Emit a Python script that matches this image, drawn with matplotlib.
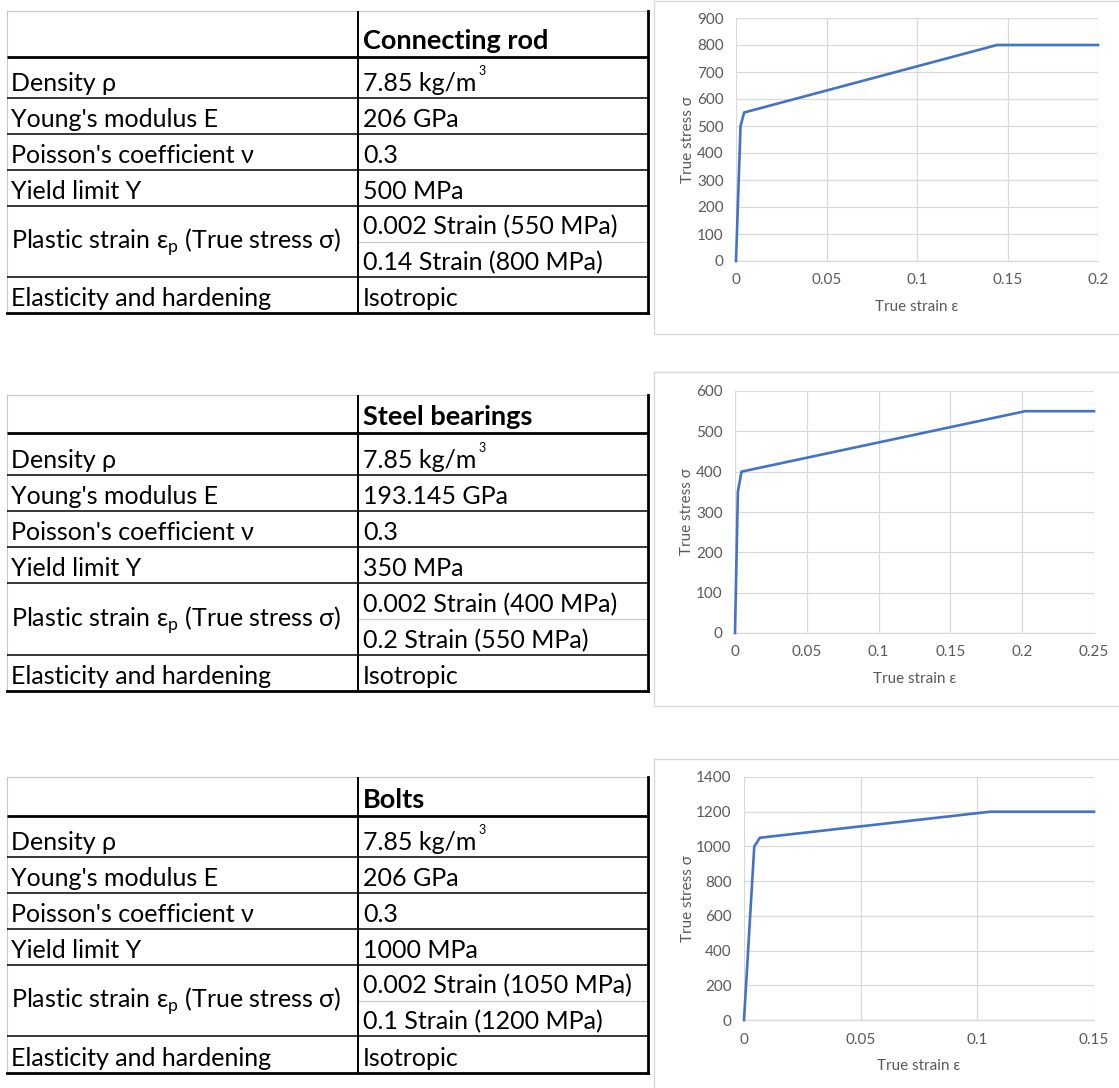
import matplotlib
matplotlib.use('Agg')
import matplotlib.pyplot as plt

plt.rcParams['font.family'] = ['Lato', 'DejaVu Sans']
plt.rcParams['mathtext.fontset'] = 'custom'
plt.rcParams['mathtext.rm'] = 'Lato'

# ---------------- data ----------------
materials = ["Connecting rod", "Steel bearings", "Bolts"]
row_labels = ["Density ρ", "Young's modulus E", "Poisson's coefficient ν", "Yield limit Y",
              "Plastic strain ε$_\\mathregular{p}$ (True stress σ)", "Elasticity and hardening"]
density = ["7.85 kg/m", "7.85 kg/m", "7.85 kg/m"]
density_exp = "3"
youngs = ["206 GPa", "193.145 GPa", "206 GPa"]
poisson = ["0.3", "0.3", "0.3"]
yield_limit = ["500 MPa", "350 MPa", "1000 MPa"]
plastic_1 = ["0.002 Strain (550 MPa)", "0.002 Strain (400 MPa)", "0.002 Strain (1050 MPa)"]
plastic_2 = ["0.14 Strain (800 MPa)", "0.2 Strain (550 MPa)", "0.1 Strain (1200 MPa)"]
hardening = ["Isotropic", "Isotropic", "Isotropic"]

strain_rod = [0, 0.0025, 0.0045, 0.1442, 0.2]
stress_rod = [0, 500, 550, 800, 800]
strain_bearing = [0, 0.002, 0.0045, 0.2022, 0.25]
stress_bearing = [0, 350, 400, 550, 550]
strain_bolt = [0, 0.0044, 0.0068, 0.1055, 0.15]
stress_bolt = [0, 1000, 1050, 1200, 1200]

x_ticks = [[0, 0.05, 0.1, 0.15, 0.2], [0, 0.05, 0.1, 0.15, 0.2, 0.25], [0, 0.05, 0.1, 0.15]]
y_ticks = [list(range(0, 901, 100)), list(range(0, 601, 100)), list(range(0, 1401, 200))]

# ---------------- layout ----------------
W, H = 1119, 1088
fig = plt.figure(figsize=(W / 100, H / 100), dpi=100)
bg = fig.add_axes([0, 0, 1, 1])
bg.set_xlim(0, W)
bg.set_ylim(H, 0)
bg.axis('off')

table_rows = [
    [11, 57, 98, 134, 170, 206, 277, 313],
    [395, 433, 475, 511, 547, 583, 655, 691],
    [777, 816, 857, 893, 929, 965, 1036, 1073],
]
XL, XD, XR = 7, 358, 648
FS = 18
grey = '#c8c8c8'

for t in range(3):
    r = table_rows[t]
    bg.plot([XL, XR], [r[0], r[0]], color=grey, lw=0.8)
    bg.plot([XL, XL], [r[0], r[-1]], color=grey, lw=0.8)
    sub = (r[5] + r[6]) / 2
    bg.plot([XD, XR], [sub, sub], color=grey, lw=0.8)
    bg.plot([XL, XR], [r[1], r[1]], color='black', lw=2.0, solid_capstyle='butt')
    for y in r[2:-1]:
        bg.plot([XL, XR], [y, y], color='black', lw=1.1, solid_capstyle='butt')
    bg.plot([XL, XR], [r[-1], r[-1]], color='black', lw=2.0, solid_capstyle='projecting')
    bg.plot([XD, XD], [r[0], r[-1]], color='black', lw=1.4, solid_capstyle='butt')
    bg.plot([XR, XR], [r[0], r[-1]], color='black', lw=2.0, solid_capstyle='projecting')

    bg.text(XD + 5, r[1] - 8, materials[t], fontsize=19.5, fontweight='bold',
            va='baseline', ha='left')
    values = [density[t], youngs[t], poisson[t], yield_limit[t], None, hardening[t]]
    cells = [(r[1], r[2]), (r[2], r[3]), (r[3], r[4]), (r[4], r[5]), (r[5], r[6]), (r[6], r[7])]
    for i, (lab, val) in enumerate(zip(row_labels, values)):
        y0, y1 = cells[i]
        if i == 4:
            bg.text(XL + 4, (y0 + y1) / 2 + 1, lab, fontsize=FS, va='center', ha='left')
            bg.text(XD + 5, sub - 7, plastic_1[t], fontsize=FS, va='baseline', ha='left')
            bg.text(XD + 5, y1 - 7, plastic_2[t], fontsize=FS, va='baseline', ha='left')
        else:
            bg.text(XL + 4, y1 - 7, lab, fontsize=FS, va='baseline', ha='left')
            tx = bg.text(XD + 5, y1 - 7, val, fontsize=FS, va='baseline', ha='left')
            if i == 0:
                fig.canvas.draw()
                bb = tx.get_window_extent()
                xe = bg.transData.inverted().transform((bb.x1, 0))[0]
                bg.text(xe + 2, y1 - 23, density_exp, fontsize=9, va='baseline', ha='left')

# chart boxes
boxes = [(654, 1, 1125, 334), (654, 372, 1125, 706), (654, 759, 1125, 1095)]
for (x0, y0, x1, y1) in boxes:
    bg.plot([x0, x1, x1, x0, x0], [y0, y0, y1, y1, y0], color='#d9d9d9', lw=1.0)

plot_areas = [(736, 18, 1098, 261), (735, 391, 1094, 633), (744, 777, 1094, 1020)]
curves = [(strain_rod, stress_rod), (strain_bearing, stress_bearing), (strain_bolt, stress_bolt)]
txt_col = '#595959'
for k in range(3):
    x0, y0, x1, y1 = plot_areas[k]
    ax = fig.add_axes([x0 / W, 1 - y1 / H, (x1 - x0) / W, (y1 - y0) / H])
    sx, sy = curves[k]
    ax.plot(sx, sy, color='#4472C4', lw=1.9, solid_joinstyle='round', zorder=3, clip_on=False)
    ax.set_xlim(x_ticks[k][0], x_ticks[k][-1])
    ax.set_ylim(y_ticks[k][0], y_ticks[k][-1])
    ax.set_xticks(x_ticks[k])
    ax.set_yticks(y_ticks[k])
    ax.set_xticklabels([f"{v:g}" for v in x_ticks[k]])
    ax.set_yticklabels([f"{v:g}" for v in y_ticks[k]])
    ax.grid(True, color='#d9d9d9', lw=0.9)
    ax.set_axisbelow(True)
    for s in ax.spines.values():
        s.set_visible(False)
    ax.spines['bottom'].set_visible(True)
    ax.spines['bottom'].set_color('#d9d9d9')
    ax.spines['bottom'].set_linewidth(0.9)
    ax.tick_params(length=0, labelsize=11, labelcolor=txt_col, pad=9)
    ax.set_xlabel("True strain ε", fontsize=11, color=txt_col, labelpad=9)
    ax.set_ylabel("True stress σ", fontsize=11, color=txt_col, labelpad=1)

fig.savefig('out.png', dpi=100)
